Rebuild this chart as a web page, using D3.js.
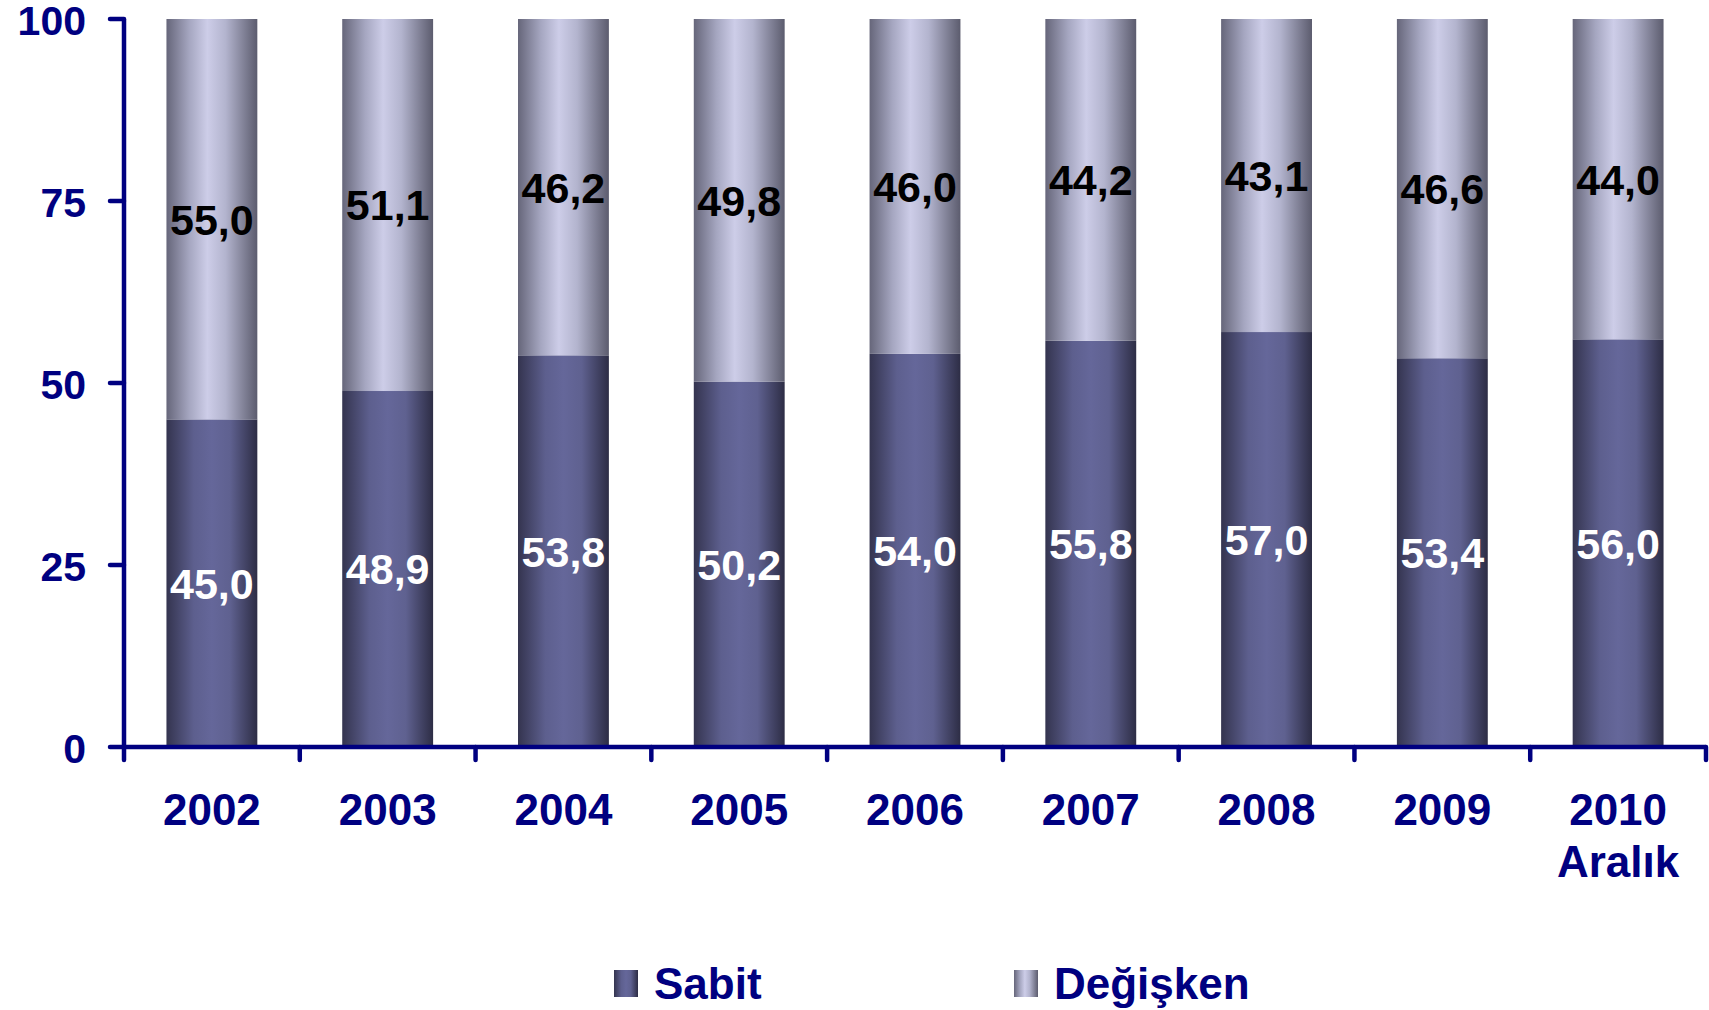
<!DOCTYPE html>
<html>
<head>
<meta charset="utf-8">
<script src="https://cdnjs.cloudflare.com/ajax/libs/d3/7.8.5/d3.min.js"></script>
<style>
  body { margin: 0; background: #fff; }
  svg { display: block; }
</style>
</head>
<body>
<div id="chart"></div>
<script>
const years = ["2002", "2003", "2004", "2005", "2006", "2007", "2008", "2009", "2010\nAralık"];
const sabit = [45.0, 48.9, 53.8, 50.2, 54.0, 55.8, 57.0, 53.4, 56.0];
const degisken = [55.0, 51.1, 46.2, 49.8, 46.0, 44.2, 43.1, 46.6, 44.0];
const yTicks = [0, 25, 50, 75, 100];
const seriesNames = ["Sabit", "Değişken"];

const WIDTH = 1709;
const HEIGHT = 1010;
const LEFT = 124;
const RIGHT = 1706;
const TOP = 19;
const BOTTOM = 747;
const NAVY = "#000080";
const FONT = "'Liberation Sans', Arial, sans-serif";

const svg = d3
  .select("#chart")
  .append("svg")
  .attr("width", WIDTH)
  .attr("height", HEIGHT);

const defs = svg.append("defs");

function addGradient(id, stops) {
  const g = defs
    .append("linearGradient")
    .attr("id", id)
    .attr("x1", "0%")
    .attr("x2", "100%")
    .attr("y1", "0%")
    .attr("y2", "0%");
  stops.forEach(s => {
    g.append("stop").attr("offset", s[0]).attr("stop-color", s[1]);
  });
}

addGradient("gradSabit", [
  ["0%", "#34344f"],
  ["30%", "#5d5f8e"],
  ["50%", "#65679a"],
  ["70%", "#5f6190"],
  ["100%", "#2d2d45"],
]);
addGradient("gradDegisken", [
  ["0%", "#66667a"],
  ["25%", "#a5a6c0"],
  ["45%", "#cdcde8"],
  ["65%", "#b3b4ce"],
  ["100%", "#5c5c6e"],
]);

const x = d3.scaleBand().domain(years).range([LEFT, RIGHT]).paddingInner(0.483).paddingOuter(0.2415);
const xBand = d3.scaleBand().domain(years).range([LEFT, RIGHT]);
const y = d3.scaleLinear().domain([0, 100]).range([BOTTOM, TOP]);

const rows = years.map((yr, i) => ({ year: yr, Sabit: sabit[i], "Değişken": degisken[i] }));
const stacked = d3.stack().keys(seriesNames)(rows);
const fills = ["url(#gradSabit)", "url(#gradDegisken)"];
const labelColors = ["#ffffff", "#000000"];

stacked.forEach((layer, k) => {
  svg
    .append("g")
    .selectAll("rect")
    .data(layer)
    .enter()
    .append("rect")
    .attr("x", d => x(d.data.year))
    .attr("width", x.bandwidth())
    .attr("y", d => y(Math.min(d[1], 100)))
    .attr("height", d => y(d[0]) - y(Math.min(d[1], 100)))
    .attr("fill", fills[k]);

  svg
    .append("g")
    .selectAll("text")
    .data(layer)
    .enter()
    .append("text")
    .attr("x", d => x(d.data.year) + x.bandwidth() / 2)
    .attr("y", d => y((d[0] + d[1]) / 2))
    .attr("dy", "0.36em")
    .attr("text-anchor", "middle")
    .style("font-family", FONT)
    .style("font-weight", "bold")
    .style("font-size", "43px")
    .attr("fill", labelColors[k])
    .text(d => (d[1] - d[0]).toFixed(1).replace(".", ","));
});

// y axis
const yAxis = svg.append("g").attr("transform", `translate(${LEFT}, 0)`);
yAxis
  .append("line")
  .attr("y1", TOP)
  .attr("y2", BOTTOM)
  .attr("stroke", NAVY)
  .attr("stroke-width", 4.5);
yAxis
  .selectAll("line.tick")
  .data(yTicks)
  .enter()
  .append("line")
  .attr("class", "tick")
  .attr("x1", -14)
  .attr("x2", 0)
  .attr("y1", d => y(d))
  .attr("y2", d => y(d))
  .attr("stroke", NAVY)
  .attr("stroke-width", 4.5)
  .attr("stroke-linecap", "round");
yAxis
  .selectAll("text")
  .data(yTicks)
  .enter()
  .append("text")
  .attr("x", -38)
  .attr("y", d => y(d))
  .attr("dy", "0.38em")
  .attr("text-anchor", "end")
  .style("font-family", FONT)
  .style("font-weight", "bold")
  .style("font-size", "41px")
  .attr("fill", NAVY)
  .text(d => d);

// x axis
const xAxis = svg.append("g").attr("transform", `translate(0, ${BOTTOM})`);
xAxis
  .append("line")
  .attr("x1", LEFT)
  .attr("x2", RIGHT)
  .attr("stroke", NAVY)
  .attr("stroke-width", 4.5);
const bounds = years.map(d => xBand(d)).concat([RIGHT]);
xAxis
  .selectAll("line.tick")
  .data(bounds)
  .enter()
  .append("line")
  .attr("class", "tick")
  .attr("x1", d => d)
  .attr("x2", d => d)
  .attr("y1", 0)
  .attr("y2", 13)
  .attr("stroke", NAVY)
  .attr("stroke-width", 4.5)
  .attr("stroke-linecap", "round");
const xLabels = xAxis
  .selectAll("text")
  .data(years)
  .enter()
  .append("text")
  .attr("x", d => xBand(d) + xBand.bandwidth() / 2)
  .attr("y", 78)
  .attr("text-anchor", "middle")
  .style("font-family", FONT)
  .style("font-weight", "bold")
  .style("font-size", "44px")
  .attr("fill", NAVY);
xLabels.each(function (d) {
  const lines = d.split("\n");
  lines.forEach((l, i) => {
    d3.select(this)
      .append("tspan")
      .attr("x", xBand(d) + xBand.bandwidth() / 2)
      .attr("dy", i === 0 ? 0 : 52)
      .text(l);
  });
});

// legend
const legendX = [614, 1014];
const legend = svg
  .append("g")
  .selectAll("g")
  .data(seriesNames)
  .enter()
  .append("g")
  .attr("transform", (d, i) => `translate(${legendX[i]}, 970)`);
legend
  .append("rect")
  .attr("width", 24)
  .attr("height", 27)
  .attr("fill", (d, i) => fills[i]);
legend
  .append("text")
  .attr("x", 40)
  .attr("y", 29)
  .style("font-family", FONT)
  .style("font-weight", "bold")
  .style("font-size", "44px")
  .attr("fill", NAVY)
  .text(d => d);
</script>
</body>
</html>
